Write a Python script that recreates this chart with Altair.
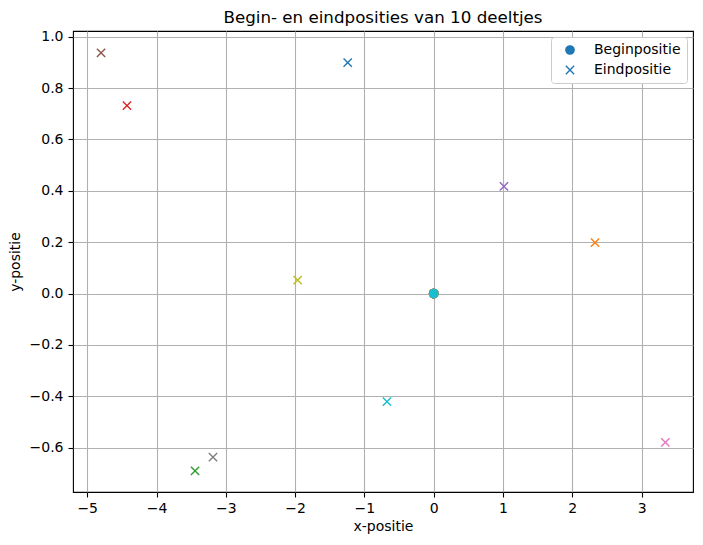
import altair as alt
import pandas as pd

# Data
deeltjes = list(range(10))
begin_x = [0.0] * 10
begin_y = [0.0] * 10
eind_x = [-1.241, 2.328, -3.444, -4.426, 1.014, -4.80, 3.343, -3.185, -1.963, -0.674]
eind_y = [0.899, 0.198, -0.691, 0.732, 0.417, 0.937, -0.580, -0.637, 0.052, -0.421]
tab10 = ["#1f77b4", "#ff7f0e", "#2ca02c", "#d62728", "#9467bd",
         "#8c564b", "#e377c2", "#7f7f7f", "#bcbd22", "#17becf"]
x_ticks = [-5, -4, -3, -2, -1, 0, 1, 2, 3]
y_ticks = [-0.6, -0.4, -0.2, 0.0, 0.2, 0.4, 0.6, 0.8, 1.0]

rows = []
for i in deeltjes:
    rows.append({"deeltje": i, "x": begin_x[i], "y": begin_y[i], "soort": "Beginpositie", "orde": i})
for i in deeltjes:
    rows.append({"deeltje": i, "x": eind_x[i], "y": eind_y[i], "soort": "Eindpositie", "orde": 10 + i})
df = pd.DataFrame(rows)

FONT = "DejaVu Sans"
cross_path = "M-1,-1L1,1M1,-1L-1,1"

xscale = alt.Scale(domain=[-5.205, 3.742], nice=False, zero=False)
yscale = alt.Scale(domain=[-0.773, 1.0225], nice=False, zero=False)
cscale = alt.Scale(domain=deeltjes, range=tab10)

chart = alt.Chart(df).mark_point(opacity=1, strokeWidth=1.4, size=69).encode(
    x=alt.X("x:Q", scale=xscale,
            axis=alt.Axis(values=x_ticks, title="x-positie",
                          labelExpr="replace(format(datum.value, 'd'), '-', '\u2212')",
                          titleX=310, titleY=38.5, titleBaseline="alphabetic",
                          labelPadding=4)),
    y=alt.Y("y:Q", scale=yscale,
            axis=alt.Axis(values=y_ticks, title="y-positie",
                          labelExpr="replace(format(datum.value, '.1f'), '-', '\u2212')",
                          titleX=-53.6, titleY=230.5, titleBaseline="alphabetic",
                          titleAngle=-90, labelPadding=5)),
    fill=alt.Fill("deeltje:N", scale=cscale, legend=None),
    stroke=alt.Stroke("deeltje:N", scale=cscale, legend=None),
    shape=alt.Shape("soort:N",
                    scale=alt.Scale(domain=["Beginpositie", "Eindpositie"],
                                    range=["circle", cross_path]),
                    legend=alt.Legend(title=None, orient="none", legendX=478, legendY=6,
                                      symbolFillColor="#1f77b4", symbolStrokeColor="#1f77b4",
                                      symbolStrokeWidth=1.4, symbolSize=69, symbolOpacity=1,
                                      labelFontSize=14, labelFont=FONT, labelColor="black",
                                      labelOffset=17, symbolOffset=6, rowPadding=6,
                                      padding=6, strokeColor="#cccccc", fillColor="white",
                                      cornerRadius=3)),
    order=alt.Order("orde:Q"),
).properties(
    width=620,
    height=461,
    title=alt.TitleParams("Begin- en eindposities van 10 deeltjes", font=FONT,
                          fontSize=16.7, fontWeight="normal", color="black",
                          anchor="middle", frame="group", offset=3),
    autosize=alt.AutoSizeParams(type="none"),
    padding={"left": 65, "top": 23, "right": 2, "bottom": 45},
).configure_view(
    stroke="black", strokeWidth=1.1
).configure_axis(
    grid=True, gridColor="#b0b0b0", gridWidth=1.1,
    domain=False,
    tickColor="black", tickSize=5, tickWidth=1.1,
    labelFont=FONT, labelFontSize=14, labelColor="black",
    titleFont=FONT, titleFontSize=14, titleColor="black", titleFontWeight="normal",
)

chart.save("out.html", embed_options={"renderer": "svg", "actions": False})
